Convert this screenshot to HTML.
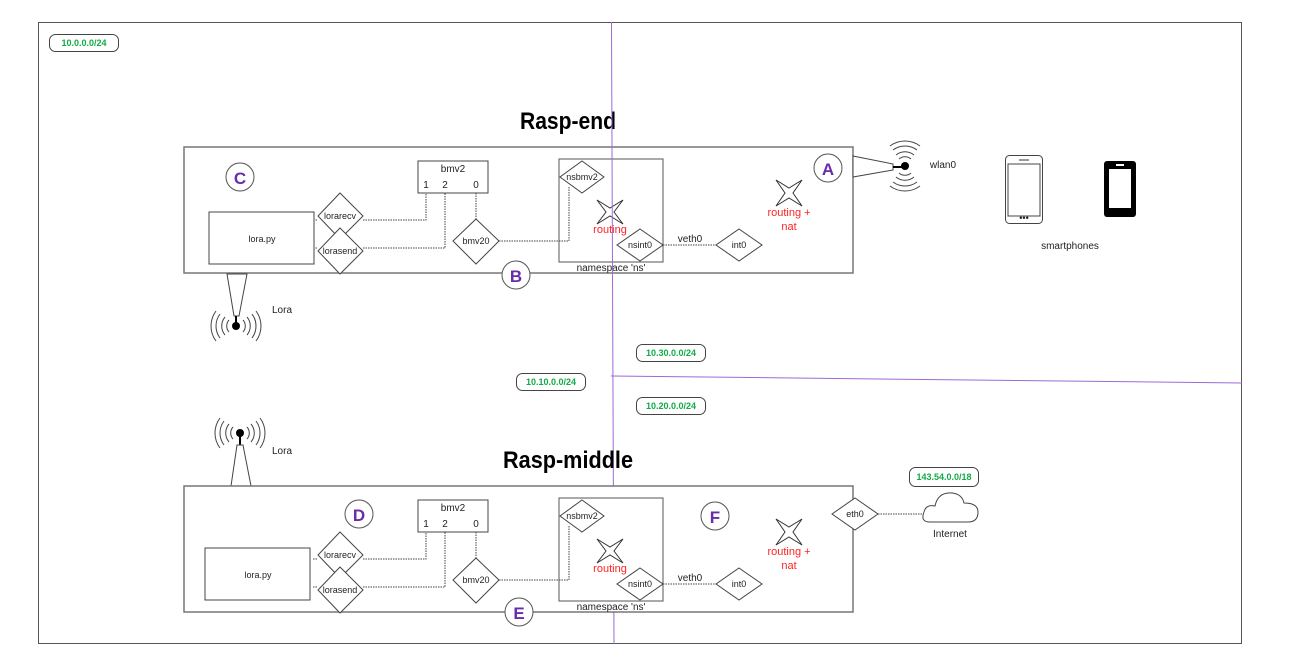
<!DOCTYPE html>
<html><head><meta charset="utf-8"><style>
html,body{margin:0;padding:0;background:#fff;}
svg{display:block;font-family:"Liberation Sans",Arial,sans-serif;}
.t{font-size:10px;fill:#222;text-anchor:middle;}
.s{font-size:9px;fill:#222;text-anchor:middle;}
.r{font-size:11px;fill:#f22;text-anchor:middle;}
.g{font-size:9px;fill:#1a4;font-weight:bold;text-anchor:middle;}
.L{font-size:17px;fill:#6a2ca8;font-weight:bold;text-anchor:middle;}
.d{stroke:#444;stroke-width:1;stroke-dasharray:1.5 1;fill:none;}
.b{stroke:#444;stroke-width:1;fill:#fff;}
</style></head><body>
<svg width="1297" height="668" viewBox="0 0 1297 668" xmlns="http://www.w3.org/2000/svg">
<defs>
<g id="rasp">
 <rect x="184" y="147" width="669" height="126" fill="#fff" stroke="#777" stroke-width="1.5"/>
 <rect x="418" y="161" width="70" height="32" class="b"/>
 <text x="453" y="172" class="t" font-size="11">bmv2</text>
 <text x="426" y="188" class="t" font-size="11">1</text>
 <text x="445" y="188" class="t" font-size="11">2</text>
 <text x="476" y="188" class="t" font-size="11">0</text>
 <polyline points="363,220 426,220 426,193" class="d"/>
 <polyline points="363,248 445,248 445,193" class="d"/>
 <line x1="476" y1="193" x2="476" y2="219" class="d"/>
 <polyline points="499,241 569,241 569,187" class="d"/>
 <line x1="663" y1="245" x2="716" y2="245" class="d"/>
 <line x1="313" y1="220" x2="318" y2="220" class="d"/>
 <line x1="313" y1="248" x2="318" y2="248" class="d"/>
 <rect x="559" y="159" width="104" height="103" fill="none" stroke="#555"/>
 <text x="611" y="271" class="t">namespace 'ns'</text>
 <polygon points="340,193 363,216 340,239 318,216" class="b"/>
 <text x="340" y="219" class="s">lorarecv</text>
 <polygon points="340,228 363,251 340,274 318,251" class="b"/>
 <text x="340" y="254" class="s">lorasend</text>
 <polygon points="476,219 499,241 476,264 453,241" class="b"/>
 <text x="476" y="244" class="s">bmv20</text>
 <polygon points="582,161 604,177 582,193 560,177" class="b"/>
 <text x="582" y="180" class="s">nsbmv2</text>
 <polygon points="640,229 663,245 640,261 617,245" class="b"/>
 <text x="640" y="248" class="s">nsint0</text>
 <polygon points="739,229 762,245 739,261 716,245" class="b"/>
 <text x="739" y="248" class="s">int0</text>
 <text x="690" y="242" class="t" font-size="11">veth0</text>
 <polygon points="597,200 610,208 623,200 614,212 623,224 610,216 597,224 606,212" fill="#fff" stroke="#333"/>
 <text x="610" y="233" class="r">routing</text>
 <polygon points="776,180 789,188 802,180 793,193 802,206 789,198 776,206 785,193" fill="#fff" stroke="#333"/>
 <text x="789" y="216" class="r">routing +</text>
 <text x="789" y="230" class="r">nat</text>
</g>
<g id="wave">
 <path d="M-7,-6 A9,9 0 0 0 -7,6 M7,-6 A9,9 0 0 1 7,6 M-11,-9 A14,14 0 0 0 -11,9 M11,-9 A14,14 0 0 1 11,9 M-16,-12 A20,20 0 0 0 -16,12 M16,-12 A20,20 0 0 1 16,12 M-20,-15 A25,25 0 0 0 -20,15 M20,-15 A25,25 0 0 1 20,15" fill="none" stroke="#444" stroke-width="1"/>
 <circle cx="0" cy="0" r="4" fill="#000"/>
</g>
</defs>
<rect x="38.5" y="22.5" width="1203" height="621" fill="none" stroke="#555"/>
<rect x="49.5" y="34.5" width="69" height="17" rx="6" fill="#fff" stroke="#444"/>
<text x="84" y="46" class="g">10.0.0.0/24</text>

<text x="568" y="129" font-size="24" font-weight="bold" text-anchor="middle" fill="#000" textLength="96" lengthAdjust="spacingAndGlyphs">Rasp-end</text>
<use href="#rasp"/>
<circle cx="240" cy="177" r="14" fill="#fff" stroke="#555"/><text x="240" y="184" class="L">C</text>
<rect x="209" y="212" width="105" height="52" class="b"/><text x="262" y="242" class="s">lora.py</text>
<circle cx="828" cy="168" r="14" fill="#fff" stroke="#555"/><text x="828" y="175" class="L">A</text>
<circle cx="516" cy="275" r="14" fill="#fff" stroke="#555"/><text x="516" y="282" class="L">B</text>
<polygon points="227,274 247,274 239,316 234,316" fill="#fff" stroke="#444"/>
<use href="#wave" x="236" y="326"/>
<line x1="236" y1="316" x2="236" y2="326" stroke="#000" stroke-width="2"/>
<text x="282" y="313" class="t" font-size="11">Lora</text>
<polygon points="853,156 893,164 893,170 853,177" fill="#fff" stroke="#444"/>
<use href="#wave" transform="translate(905,166) rotate(90)"/>
<line x1="893" y1="167" x2="905" y2="167" stroke="#000" stroke-width="2"/>
<text x="943" y="168" class="t" font-size="11">wlan0</text>
<rect x="1005.5" y="155.5" width="37" height="68" rx="4" fill="#fff" stroke="#444"/>
<rect x="1008" y="164" width="32" height="52" fill="#fff" stroke="#444"/>
<line x1="1019" y1="160" x2="1029" y2="160" stroke="#333"/>
<text x="1024" y="221" class="s">•••</text>
<rect x="1104" y="161" width="32" height="56" rx="3" fill="#000"/>
<rect x="1109" y="169" width="22" height="39" fill="#fff"/>
<rect x="1116" y="164" width="8" height="2" fill="#fff"/>
<text x="1070" y="249" class="t" font-size="11">smartphones</text>

<line x1="611.5" y1="22" x2="614" y2="644" stroke="#9b6ad8" stroke-width="1"/>
<line x1="611" y1="376" x2="1242" y2="383" stroke="#9b6ad8" stroke-width="1"/>

<rect x="636.5" y="344.5" width="69" height="17" rx="6" fill="#fff" stroke="#444"/><text x="671" y="356" class="g">10.30.0.0/24</text>
<rect x="516.5" y="373.5" width="69" height="17" rx="6" fill="#fff" stroke="#444"/><text x="551" y="385" class="g">10.10.0.0/24</text>
<rect x="636.5" y="397.5" width="69" height="17" rx="6" fill="#fff" stroke="#444"/><text x="671" y="409" class="g">10.20.0.0/24</text>

<use href="#wave" x="240" y="433"/>
<line x1="240" y1="433" x2="240" y2="445" stroke="#000" stroke-width="2"/>
<polygon points="237,445 243,445 251,486 231,486" fill="#fff" stroke="#444"/>
<text x="282" y="454" class="t" font-size="11">Lora</text>

<text x="568" y="468" font-size="24" font-weight="bold" text-anchor="middle" fill="#000" textLength="130" lengthAdjust="spacingAndGlyphs">Rasp-middle</text>
<use href="#rasp" y="339"/>
<rect x="205" y="548" width="105" height="52" class="b"/><text x="258" y="578" class="s">lora.py</text>
<circle cx="359" cy="514" r="14" fill="#fff" stroke="#555"/><text x="359" y="521" class="L">D</text>
<circle cx="715" cy="516" r="14" fill="#fff" stroke="#555"/><text x="715" y="523" class="L">F</text>
<circle cx="519" cy="612" r="14" fill="#fff" stroke="#555"/><text x="519" y="619" class="L">E</text>
<polygon points="855,498 878,514 855,530 832,514" class="b"/><text x="855" y="517" class="s">eth0</text>
<line x1="878" y1="514" x2="923" y2="514" class="d"/>
<rect x="909.5" y="467.5" width="69" height="19" rx="6" fill="#fff" stroke="#444"/><text x="944" y="480" class="g">143.54.0.0/18</text>
<path d="M930,522 Q920,522 924,512 Q926,504 935,506 Q938,492 952,493 Q962,494 964,503 Q978,503 978,512 Q978,522 968,522 Z" fill="#fff" stroke="#444"/>
<text x="950" y="537" class="t" font-size="11">Internet</text>
</svg>
</body></html>
